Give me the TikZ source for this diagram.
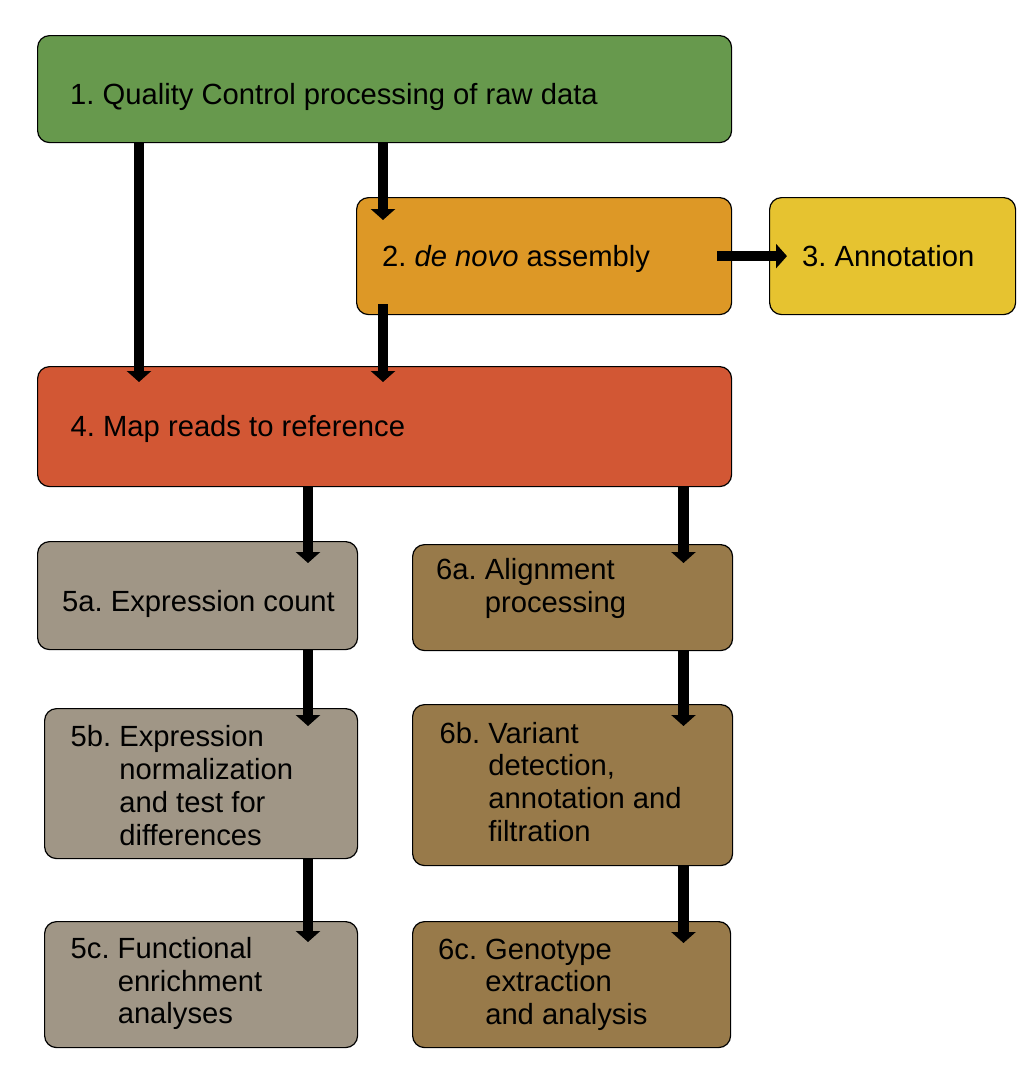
\documentclass[tikz,border=0pt]{standalone}
\usepackage{fontspec}
\setmainfont{Liberation Sans}
\usetikzlibrary{arrows.meta}

\definecolor{qcgreen}{RGB}{103,153,77}
\definecolor{asmorange}{RGB}{221,152,38}
\definecolor{annyellow}{RGB}{230,195,48}
\definecolor{mapred}{RGB}{210,87,52}
\definecolor{exprgray}{RGB}{160,150,134}
\definecolor{varbrown}{RGB}{152,122,74}

\newcommand{\hanglabel}[2]{\begin{tabular}[t]{@{}l@{\hspace{\fontdimen2\font}}l@{}}#1&\begin{tabular}[t]{@{}l@{}}#2\end{tabular}\end{tabular}}

\tikzset{
  stage/.style={draw=black, line width=1.2pt, rounded corners=12pt, anchor=north west, inner sep=0pt},
  boxsize/.style 2 args={minimum width=#1pt, minimum height=#2pt},
  stagetext/.style={anchor=base west, inner sep=0pt, font=\fontsize{29.2}{32.8}\selectfont\frenchspacing},
  flow/.style={line width=10.5pt, -{Triangle[width=24pt,length=11pt]}}
}

\begin{document}
\begin{tikzpicture}[x=1pt, y=-1pt]
     \useasboundingbox (0,0) rectangle (1036,1079);

     \node[stage, boxsize={694}{107}, fill=qcgreen] (qc) at (37,35) {};
     \node[stage, boxsize={375}{117}, fill=asmorange] (asm) at (356,197) {};
     \node[stage, boxsize={246}{117}, fill=annyellow] (ann) at (769,197) {};
     \node[stage, boxsize={694}{120}, fill=mapred] (map) at (37,366) {};
     \node[stage, boxsize={320}{108}, fill=exprgray] (cnt) at (37,541) {};
     \node[stage, boxsize={320}{106}, fill=varbrown] (aln) at (412,544) {};
     \node[stage, boxsize={313}{150}, fill=exprgray] (norm) at (44,708) {};
     \node[stage, boxsize={320}{161}, fill=varbrown] (var) at (412,704) {};
     \node[stage, boxsize={313}{126}, fill=exprgray] (enr) at (44,921) {};
     \node[stage, boxsize={318}{126}, fill=varbrown] (geno) at (412,921) {};

     \node[stagetext] (qc-text) at ([shift={(33,69)}]qc.north west) {1. Quality Control processing of raw data};
     \node[stagetext] (asm-text) at ([shift={(26,69.7)}]asm.north west) {2. \textit{de novo} assembly};
     \node[stagetext] (ann-text) at ([shift={(33,69.7)}]ann.north west) {3. Annotation};
     \node[stagetext] (map-text) at ([shift={(33.5,70)}]map.north west) {4. Map reads to reference};
     \node[stagetext] (cnt-text) at ([shift={(25,70.7)}]cnt.north west) {5a. Expression count};
     \node[stagetext] (aln-text) at ([shift={(24,35.3)}]aln.north west) {\hanglabel{6a.}{Alignment\\processing}};
     \node[stagetext] (norm-text) at ([shift={(26.5,38.7)}]norm.north west) {\hanglabel{5b.}{Expression\\normalization\\and test for\\differences}};
     \node[stagetext] (var-text) at ([shift={(27.5,39)}]var.north west) {\hanglabel{6b.}{Variant\\detection,\\annotation and\\filtration}};
     \node[stagetext] (enr-text) at ([shift={(26.5,37.3)}]enr.north west) {\hanglabel{5c.}{Functional\\enrichment\\analyses}};
     \node[stagetext] (geno-text) at ([shift={(26,38)}]geno.north west) {\hanglabel{6c.}{Genotype\\extraction\\and analysis}};

     \coordinate (colA) at (139,0);
     \coordinate (colB) at (383,0);
     \coordinate (colC) at (308,0);
     \coordinate (colD) at (683.5,0);

     \draw[flow] (colA |- qc.south) -- ([yshift=-16pt]colA |- map.north);
     \draw[flow] (colB |- qc.south) -- ([yshift=-23pt]colB |- asm.north);
     \draw[flow] ([yshift=11pt]colB |- asm.south) -- ([yshift=-16pt]colB |- map.north);
     \draw[flow] ([xshift=-15pt]asm.east) -- ([xshift=18pt]ann.west);
     \draw[flow] (colC |- map.south) -- ([yshift=-22pt]colC |- cnt.north);
     \draw[flow] (colD |- map.south) -- ([yshift=-19pt]colD |- aln.north);
     \draw[flow] (colC |- cnt.south) -- ([yshift=-18pt]colC |- norm.north);
     \draw[flow] (colD |- aln.south) -- ([yshift=-22pt]colD |- var.north);
     \draw[flow] (colC |- norm.south) -- ([yshift=-21pt]colC |- enr.north);
     \draw[flow] (colD |- var.south) -- ([yshift=-22pt]colD |- geno.north);
   \end{tikzpicture}
\end{document}
